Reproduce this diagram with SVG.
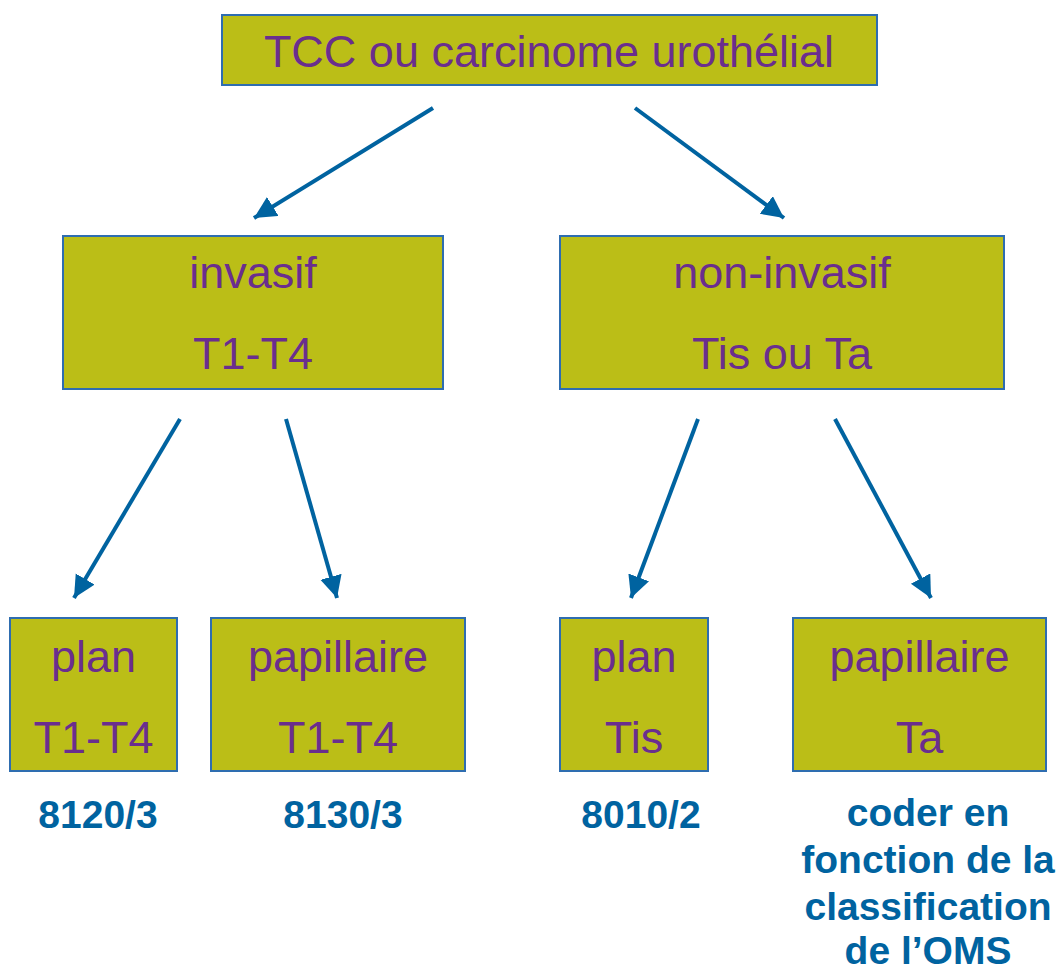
<svg xmlns="http://www.w3.org/2000/svg" width="1060" height="970" viewBox="0 0 1060 970">
<style>
.box{fill:#BBBE17;stroke:#2E6DB0;stroke-width:2}
.t{font-family:"Liberation Sans",Arial,sans-serif;font-size:45px;fill:#6A2E8E;text-anchor:middle}
.lbl{font-family:"Liberation Sans",Arial,sans-serif;font-size:39px;font-weight:bold;fill:#0063A0;text-anchor:middle}
.arr{stroke:#0063A0;stroke-width:4;fill:none;marker-end:url(#ah)}
</style>
<defs>
<marker id="ah" markerUnits="userSpaceOnUse" markerWidth="24" markerHeight="24" refX="22" refY="11" orient="auto" viewBox="0 0 24 24">
<path d="M0,0 L22,11 L0,22 Z" fill="#0063A0"/>
</marker>
</defs>
<rect width="1060" height="970" fill="#FFFFFF"/>
<g id="connectors">
<line class="arr" x1="433" y1="108" x2="254" y2="218"/>
<line class="arr" x1="635" y1="108" x2="784" y2="218"/>
<line class="arr" x1="180" y1="419" x2="74" y2="598"/>
<line class="arr" x1="286" y1="419" x2="337" y2="598"/>
<line class="arr" x1="698" y1="419" x2="631" y2="598"/>
<line class="arr" x1="835" y1="419" x2="931" y2="598"/>
</g>
<g id="root">
<rect class="box" x="222" y="15" width="655" height="70"/>
<text class="t" x="549" y="67">TCC ou carcinome urothélial</text>
</g>
<g id="invasif">
<rect class="box" x="63" y="236" width="380" height="153"/>
<text class="t" x="253" y="288">invasif</text>
<text class="t" x="253" y="369">T1-T4</text>
</g>
<g id="noninvasif">
<rect class="box" x="560" y="236" width="444" height="153"/>
<text class="t" x="782" y="288">non-invasif</text>
<text class="t" x="782" y="369">Tis ou Ta</text>
</g>
<g id="plan1">
<rect class="box" x="10" y="618" width="167" height="153"/>
<text class="t" x="93.5" y="672">plan</text>
<text class="t" x="93.5" y="753">T1-T4</text>
</g>
<g id="pap1">
<rect class="box" x="211" y="618" width="254" height="153"/>
<text class="t" x="338" y="672">papillaire</text>
<text class="t" x="338" y="753">T1-T4</text>
</g>
<g id="plan2">
<rect class="box" x="560" y="618" width="148" height="153"/>
<text class="t" x="634" y="672">plan</text>
<text class="t" x="634" y="753">Tis</text>
</g>
<g id="pap2">
<rect class="box" x="793" y="618" width="253" height="153"/>
<text class="t" x="919.5" y="672">papillaire</text>
<text class="t" x="919.5" y="753">Ta</text>
</g>
<g id="labels">
<text class="lbl" x="98" y="828">8120/3</text>
<text class="lbl" x="343" y="828">8130/3</text>
<text class="lbl" x="641" y="828">8010/2</text>
<text class="lbl" x="928" y="826">coder en</text>
<text class="lbl" x="928" y="873">fonction de la</text>
<text class="lbl" x="928" y="920">classification</text>
<text class="lbl" x="928" y="964">de l’OMS</text>
</g>
</svg>
